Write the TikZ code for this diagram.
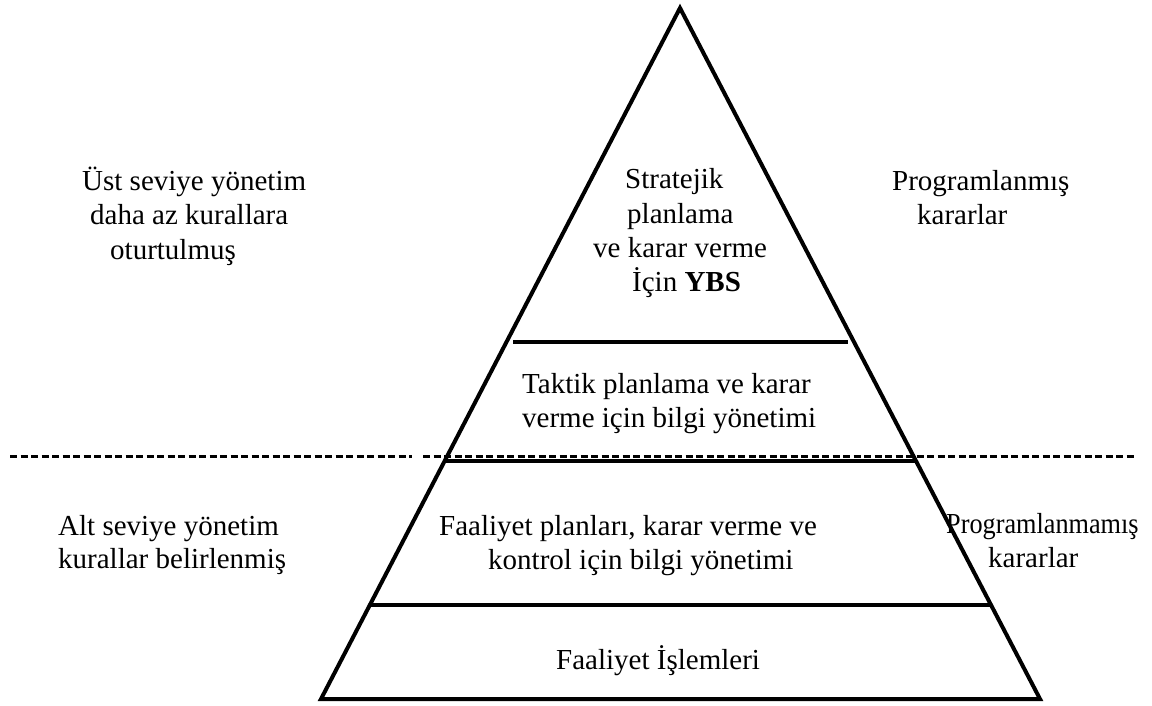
\documentclass[tikz,border=0pt]{standalone}
\usepackage{fontspec}
\setmainfont{Liberation Serif}
\usetikzlibrary{calc}
\begin{document}
\begin{tikzpicture}[x=1pt,y=-1pt,
  lbl/.style={font=\fontsize{29}{34}\selectfont, inner sep=0pt, anchor=base west},
  edgeline/.style={line width=4pt},
  sepline/.style={line width=3pt, dash pattern=on 7pt off 3.5pt}]
\useasboundingbox (0,0) rectangle (1152,706);
% pyramid
\coordinate (apex) at (680,8);
\coordinate (bl) at (321,699);
\coordinate (br) at (1040,699);
\draw[edgeline, line join=miter] (apex) -- (bl) -- (br) -- cycle;
\coordinate (l1a) at (513,342);
\coordinate (l1b) at (848,342);
\draw[edgeline] (l1a) -- (l1b);
\coordinate (l2a) at ($(apex)!0.6556!(bl)$);
\coordinate (l2b) at ($(apex)!0.6556!(br)$);
\draw[edgeline] (l2a) -- (l2b);
\coordinate (l3a) at ($(apex)!0.8640!(bl)$);
\coordinate (l3b) at ($(apex)!0.8640!(br)$);
\draw[edgeline] (l3a) -- (l3b);
% dashed separator
\coordinate (d1) at (10,456);
\coordinate (d2) at (412,456);
\coordinate (d3) at (423,456);
\coordinate (d4) at (1134,456);
\draw[sepline] (d1) -- (d2);
\draw[sepline] (d3) -- (d4);
% left texts
\node[lbl] (ust1) at (82,191) {Üst seviye yönetim};
\node[lbl] (ust2) at (90,225) {daha az kurallara};
\node[lbl] (ust3) at (110,259) {oturtulmuş};
\node[lbl] (alt1) at (58,535) {Alt seviye yönetim};
\node[lbl] (alt2) at (58,568) {kurallar belirlenmiş};
% pyramid texts
\node[lbl] (s1) at (625,189) {Stratejik};
\node[lbl] (s2) at (627,223) {planlama};
\node[lbl] (s3) at (593,257) {ve karar verme};
\node[lbl] (s4) at (632,291) {İçin \textbf{YBS}};
\node[lbl] (t1) at (522,393) {Taktik planlama ve karar};
\node[lbl] (t2) at (522,427) {verme için bilgi yönetimi};
\node[lbl] (f1) at (439,535) {Faaliyet planları, karar verme ve};
\node[lbl] (f2) at (488,569) {kontrol için bilgi yönetimi};
\node[lbl] (fi) at (556,669) {Faaliyet İşlemleri};
% right texts
\node[lbl] (p1) at (892,190) {Programlanmış};
\node[lbl] (p2) at (917,225) {kararlar};
\node[lbl] (q1) at (946,533) {\scalebox{0.905}[1]{Programlanmamış}};
\node[lbl] (q2) at (988,567) {kararlar};
\end{tikzpicture}
\end{document}
